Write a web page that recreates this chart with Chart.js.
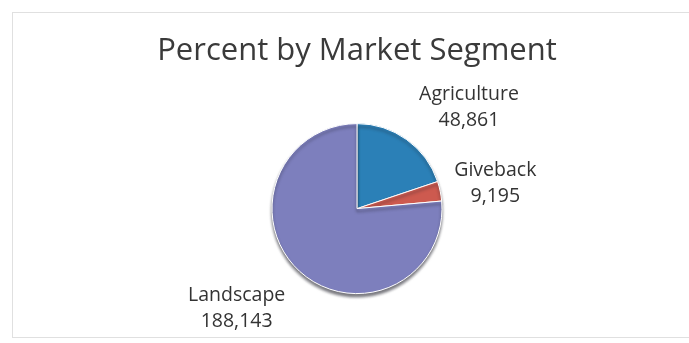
<!DOCTYPE html>
<html><head><meta charset="utf-8">
<script src="https://cdn.jsdelivr.net/npm/chart.js@4"></script>
<style>html,body{margin:0;padding:0;background:#fff;}#wrap{width:689px;height:343px;}</style>
</head><body><div id="wrap"><canvas id="c"></canvas></div>
<script>
const categories = ['Agriculture', 'Giveback', 'Landscape'];
const values = [48861, 9195, 188143];
const colors = ['#2b80b7', '#cd5a4f', '#7d7fbd'];
const titleText = 'Percent by Market Segment';

const labelPlugin = {
  id: 'outLabels',
  beforeDraw(chart) {
    const ctx = chart.ctx;
    ctx.save();
    ctx.strokeStyle = '#e0e0e0';
    ctx.lineWidth = 1;
    ctx.strokeRect(12.5, 12.5, 700, 325);
    ctx.restore();
  },
  beforeDatasetsDraw(chart) {
    const ctx = chart.ctx;
    ctx.save();
    ctx.shadowColor = 'rgba(30,30,40,0.6)';
    ctx.shadowBlur = 3;
    ctx.shadowOffsetY = 3;
  },
  afterDatasetsDraw(chart, args, opts) {
    const ctx = chart.ctx;
    ctx.restore();
    const meta = chart.getDatasetMeta(0);
    ctx.save();
    ctx.fillStyle = '#333333';
    ctx.font = opts.font;
    ctx.textAlign = 'center';
    ctx.textBaseline = 'middle';
    meta.data.forEach((arc, i) => {
      const p = arc.getProps(['x', 'y', 'startAngle', 'endAngle', 'outerRadius'], true);
      const mid = (p.startAngle + p.endAngle) / 2;
      const d = p.outerRadius + opts.distance;
      const adj = opts.adjust[i];
      const cx = p.x + Math.cos(mid) * d + adj[0];
      const cy = p.y + Math.sin(mid) * d + adj[1];
      ctx.fillText(chart.data.labels[i], cx, cy - opts.lineGap / 2);
      ctx.fillText(chart.data.datasets[0].data[i].toLocaleString('en-US'), cx, cy + opts.lineGap / 2);
    });
    ctx.restore();
  }
};

new Chart(document.getElementById('c'), {
  type: 'pie',
  data: {
    labels: categories,
    datasets: [{
      data: values,
      backgroundColor: colors,
      borderColor: '#ffffff',
      borderWidth: 1,
      radius: 85
    }]
  },
  options: {
    responsive: true,
    maintainAspectRatio: false,
    animation: false,
    layout: { padding: { left: 25, right: 0, top: 0, bottom: 0 } },
    plugins: {
      legend: { display: false },
      tooltip: { enabled: false },
      title: {
        display: true,
        text: titleText,
        color: '#3a3a3a',
        font: { family: 'Open Sans', size: 31, weight: 'normal', lineHeight: 1.2 },
        padding: { top: 33, bottom: 4 }
      },
      outLabels: {
        font: '19.5px "Open Sans"',
        distance: 40,
        lineGap: 26,
        adjust: [[39, 0], [16, 0], [-36, 8]]
      }
    }
  },
  plugins: [labelPlugin]
});
</script></body></html>
